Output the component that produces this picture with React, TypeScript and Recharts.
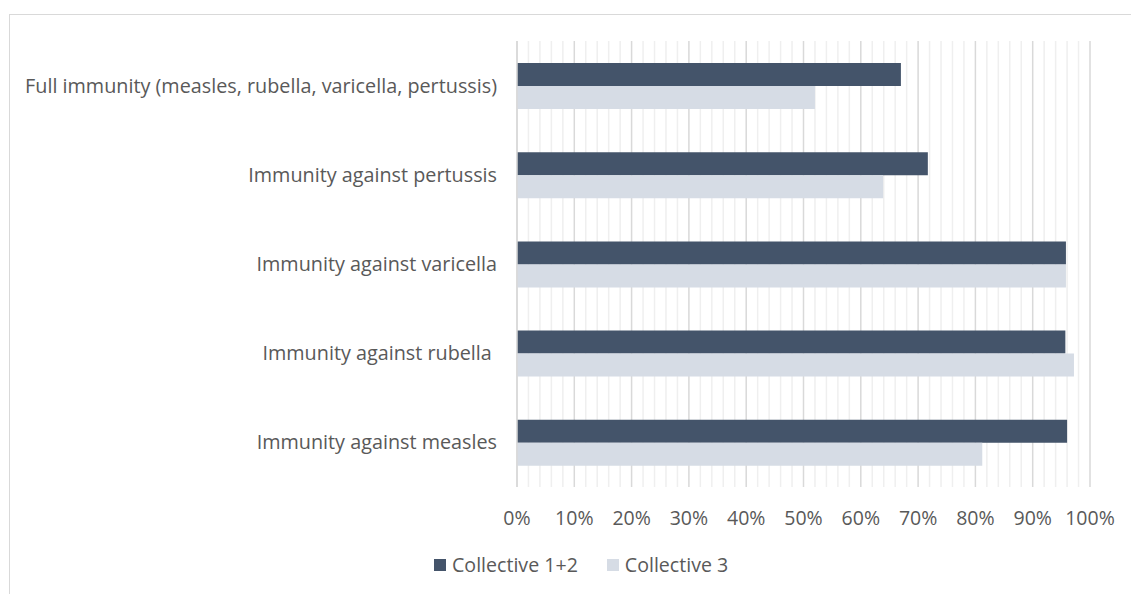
import React from "react";
import { BarChart, Bar, XAxis, YAxis, CartesianGrid, Legend } from "recharts";

const categories = [
  "Full immunity (measles, rubella, varicella, pertussis)",
  "Immunity against pertussis",
  "Immunity against varicella",
  "Immunity against rubella\u00A0",
  "Immunity against measles",
];
const collective12 = [67, 71.7, 95.8, 95.7, 96.0];
const collective3 = [52, 63.9, 95.8, 97.2, 81.2];
const xDomain = [0, 100];
const xTicks = [0, 10, 20, 30, 40, 50, 60, 70, 80, 90, 100];
const minorTicks = [2, 4, 6, 8, 12, 14, 16, 18, 22, 24, 26, 28, 32, 34, 36, 38, 42, 44, 46, 48, 52, 54, 56, 58, 62, 64, 66, 68, 72, 74, 76, 78, 82, 84, 86, 88, 92, 94, 96, 98];
const seriesNames = ["Collective 1+2", "Collective 3"];
const colors = ["#44546A", "#D6DCE5"];

const data = categories.map((c, i) => ({
  name: c,
  c12: collective12[i],
  c3: collective3[i],
}));

const FONT = "'Open Sans', sans-serif";

const LegendContent = () => (
  <div style={{ display: "flex", alignItems: "center", fontFamily: FONT, fontSize: 19.6, color: "#595959", lineHeight: "22px" }}>
    {seriesNames.map((n, i) => (
      <div key={n} style={{ display: "flex", alignItems: "center", marginRight: i === 0 ? 29 : 0 }}>
        <div style={{ width: 12, height: 12, background: colors[i], marginRight: 6 }} />
        <span>{n}</span>
      </div>
    ))}
  </div>
);

const minorGen = (props: any) => {
  const scale = props?.xAxis?.scale;
  if (typeof scale === "function") return minorTicks.map((v) => scale(v));
  if (scale && typeof scale.map === "function") return minorTicks.map((v) => scale.map(v));
  const off = props?.offset;
  if (!off) return [];
  return minorTicks.map((v) => off.left + ((v - xDomain[0]) / (xDomain[1] - xDomain[0])) * off.width);
};

export default function App() {
  return (
    <div style={{ position: "absolute", left: 0, top: 0, width: 1131, height: 594, background: "#fff", overflow: "hidden" }}>
      <div
        style={{
          position: "absolute",
          left: 9,
          top: 14,
          width: 1131,
          height: 600,
          borderTop: "1.5px solid #D9D9D9",
          borderLeft: "1.5px solid #D9D9D9",
        }}
      />
      <BarChart
        width={1131}
        height={594}
        data={data}
        layout="vertical"
        margin={{ top: 41, right: 41, left: 0, bottom: 45 }}
        barGap={0}
        barSize={23}
      >
        <CartesianGrid
          horizontal={false}
          vertical
          verticalCoordinatesGenerator={minorGen}
          stroke="#EFEFEF"
          strokeWidth={1.5}
        />
        <CartesianGrid horizontal={false} vertical stroke="#D9D9D9" strokeWidth={1.5} />
        <XAxis
          type="number"
          domain={xDomain}
          ticks={xTicks}
          tickFormatter={(v) => `${v}%`}
          axisLine={false}
          tickLine={false}
          height={40}
          tick={{ fill: "#595959", fontSize: 19.5, fontFamily: FONT }}
          tickMargin={18}
        />
        <YAxis
          type="category"
          dataKey="name"
          width={517}
          axisLine={{ stroke: "#D9D9D9", strokeWidth: 1.5 }}
          tickLine={false}
          tick={{ fill: "#595959", fontSize: 19.8, fontFamily: FONT }}
          tickMargin={14}
        />
        <Bar dataKey="c12" name={seriesNames[0]} fill={colors[0]} isAnimationActive={false} />
        <Bar dataKey="c3" name={seriesNames[1]} fill={colors[1]} isAnimationActive={false} />
        <Legend
          content={<LegendContent />}
          wrapperStyle={{ position: "absolute", top: 554, left: 434, width: "auto" }}
        />
      </BarChart>
    </div>
  );
}
